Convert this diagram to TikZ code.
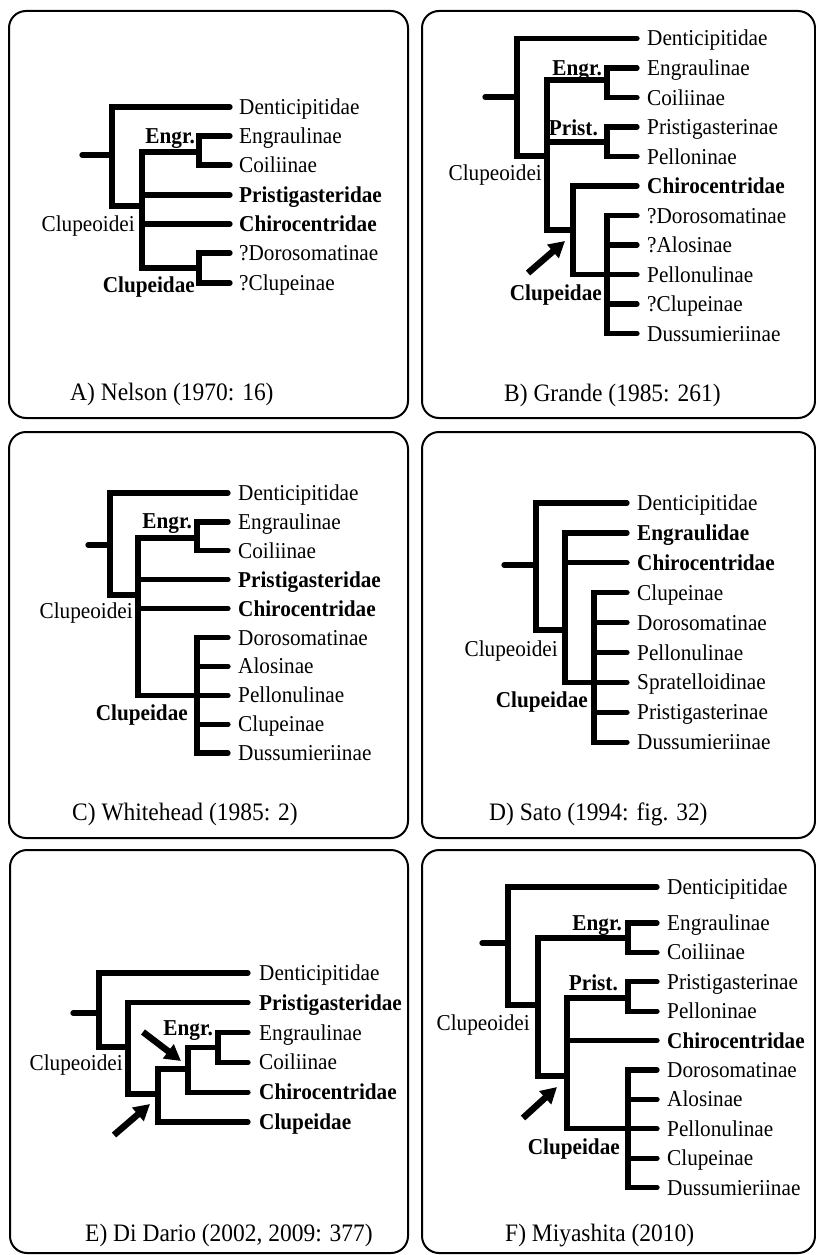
\documentclass[tikz,border=0pt]{standalone}
\usepackage{fontspec}
\setmainfont[FakeStretch=0.935]{Liberation Serif}
\usetikzlibrary{arrows.meta}
\newcommand{\leaffont}{\fontsize{22.7pt}{25pt}\selectfont}
\newcommand{\capfontx}{\fontsize{25.1pt}{28pt}\selectfont}
\tikzset{
  leaf/.style={anchor=base west, inner sep=0pt, font=\leaffont},
  lab/.style={anchor=base east, inner sep=0pt, font=\leaffont},
  blab/.style={anchor=base east, inner sep=0pt, font=\leaffont\bfseries},
  captxt/.style={anchor=base west, inner sep=0pt, font=\capfontx},
  br/.style={line width=5.3pt, line cap=round, line join=miter},
  panel/.style={draw, line width=2pt, rounded corners=17pt},
  bigarrow/.style={line width=6.5pt, -{Triangle[length=16pt,width=17pt]}}
}
\begin{document}
\begin{tikzpicture}[x=1pt,y=-1pt]
\useasboundingbox (0,0) rectangle (816,1255);
% panels
\draw[panel] (9,11) rectangle (408,418);
\draw[panel] (422,11) rectangle (815,418);
\draw[panel] (9,432) rectangle (408,838);
\draw[panel] (422,432) rectangle (815,838);
\draw[panel] (10,850) rectangle (408,1253);
\draw[panel] (422,850) rectangle (815,1253);

%% ---------------- A ----------------
\node[leaf] (a1) at (239,114.5) {Denticipitidae};
\node[leaf] (a2) at (239,143.5) {Engraulinae};
\node[leaf] (a3) at (239,172.5) {Coiliinae};
\node[leaf] (a4) at (239,202.5) {\textbf{Pristigasteridae}};
\node[leaf] (a5) at (239,231.5) {\textbf{Chirocentridae}};
\node[leaf] (a6) at (239,260.5) {?Dorosomatinae};
\node[leaf] (a7) at (239,290.5) {?Clupeinae};
\node[blab] (aEn) at (195,143) {Engr.};
\node[lab] (aCl) at (135,231.5) {Clupeoidei};
\node[blab] (aCu) at (195,292.7) {Clupeidae};
\node[captxt] (aCap) at (70,400) {A) Nelson (1970: 16)};
\draw[br] (82,155) -- (112,155);
\draw[br] (230,107) -| (112,206) -- (142,206);
\draw[br] (199,152) -| (142,268) -- (199,268);
\draw[br] (230,136) -| (199,165) -- (230,165);
\draw[br] (142,195) -- (230,195);
\draw[br] (142,224) -- (230,224);
\draw[br] (230,253) -| (199,283) -- (230,283);

%% ---------------- B ----------------
\node[leaf] (b1) at (647,46) {Denticipitidae};
\node[leaf] (b2) at (647,75.5) {Engraulinae};
\node[leaf] (b3) at (647,105) {Coiliinae};
\node[leaf] (b4) at (647,134.5) {Pristigasterinae};
\node[leaf] (b5) at (647,164) {Pelloninae};
\node[leaf] (b6) at (647,193.5) {\textbf{Chirocentridae}};
\node[leaf] (b7) at (647,223) {?Dorosomatinae};
\node[leaf] (b8) at (647,252.5) {?Alosinae};
\node[leaf] (b9) at (647,282) {Pellonulinae};
\node[leaf] (b10) at (647,311.5) {?Clupeinae};
\node[leaf] (b11) at (647,341) {Dussumieriinae};
\node[blab] (bEn) at (602,75) {Engr.};
\node[blab] (bPr) at (598,135) {Prist.};
\node[lab] (bCl) at (542,180.5) {Clupeoidei};
\node[blab] (bCu) at (602,300) {Clupeidae};
\node[captxt] (bCap) at (504,401) {B) Grande (1985: 261)};
\draw[br] (485,97) -- (517,97);
\draw[br] (637,38.5) -| (517,156) -- (547,156);
\draw[br] (607,80) -| (547,230) -- (573,230);
\draw[br] (637,68) -| (607,97.5) -- (637,97.5);
\draw[br] (547,142) -- (607,142);
\draw[br] (637,127) -| (607,156.5) -- (637,156.5);
\draw[br] (637,186) -| (573,274.5) -- (637,274.5);
\draw[br] (637,215.5) -| (607,333.5) -- (637,333.5);
\draw[br] (607,245) -- (637,245);
\draw[br] (607,304) -- (637,304);
\coordinate (bA0) at (528,273);
\coordinate (bA1) at (565,241);
\draw[bigarrow] (bA0) -- (bA1);

%% ---------------- C ----------------
\node[leaf] (c1) at (238,500.5) {Denticipitidae};
\node[leaf] (c2) at (238,529.4) {Engraulinae};
\node[leaf] (c3) at (238,558.3) {Coiliinae};
\node[leaf] (c4) at (238,587.2) {\textbf{Pristigasteridae}};
\node[leaf] (c5) at (238,616.1) {\textbf{Chirocentridae}};
\node[leaf] (c6) at (238,645) {Dorosomatinae};
\node[leaf] (c7) at (238,673.9) {Alosinae};
\node[leaf] (c8) at (238,702.8) {Pellonulinae};
\node[leaf] (c9) at (238,731.7) {Clupeinae};
\node[leaf] (c10) at (238,760.6) {Dussumieriinae};
\node[blab] (cEn) at (192,528.5) {Engr.};
\node[lab] (cCl) at (133,618.5) {Clupeoidei};
\node[blab] (cCu) at (188,720) {Clupeidae};
\node[captxt] (cCap) at (72,820) {C) Whitehead (1985: 2)};
\draw[br] (88,545) -- (110,545);
\draw[br] (228,493) -| (110,595) -- (138,595);
\draw[br] (197,538) -| (138,695.3) -- (228,695.3);
\draw[br] (228,521.9) -| (197,550.8) -- (228,550.8);
\draw[br] (138,579.7) -- (228,579.7);
\draw[br] (138,608.6) -- (228,608.6);
\draw[br] (228,637.5) -| (197,753.1) -- (228,753.1);
\draw[br] (197,666.4) -- (228,666.4);
\draw[br] (197,724.2) -- (228,724.2);

%% ---------------- D ----------------
\node[leaf] (d1) at (637,510.5) {Denticipitidae};
\node[leaf] (d2) at (637,540.4) {\textbf{Engraulidae}};
\node[leaf] (d3) at (637,570.3) {\textbf{Chirocentridae}};
\node[leaf] (d4) at (637,600.2) {Clupeinae};
\node[leaf] (d5) at (637,630.1) {Dorosomatinae};
\node[leaf] (d6) at (637,660) {Pellonulinae};
\node[leaf] (d7) at (637,689.9) {Spratelloidinae};
\node[leaf] (d8) at (637,719.8) {Pristigasterinae};
\node[leaf] (d9) at (637,749.7) {Dussumieriinae};
\node[lab] (dCl) at (558,656.5) {Clupeoidei};
\node[blab] (dCu) at (588,707.5) {Clupeidae};
\node[captxt] (dCap) at (489,820) {D) Sato (1994: fig. 32)};
\draw[br] (504,565) -- (536,565);
\draw[br] (627,503) -| (536,630) -- (565,630);
\draw[br] (627,532.9) -| (565,682.4) -- (627,682.4);
\draw[br] (565,562.8) -- (627,562.8);
\draw[br] (627,592.7) -| (594,742.2) -- (627,742.2);
\draw[br] (594,622.6) -- (627,622.6);
\draw[br] (594,652.5) -- (627,652.5);
\draw[br] (594,712.3) -- (627,712.3);

%% ---------------- E ----------------
\node[leaf] (e1) at (259,980.5) {Denticipitidae};
\node[leaf] (e2) at (259,1010.3) {\textbf{Pristigasteridae}};
\node[leaf] (e3) at (259,1040.1) {Engraulinae};
\node[leaf] (e4) at (259,1069.9) {Coiliinae};
\node[leaf] (e5) at (259,1099.7) {\textbf{Chirocentridae}};
\node[leaf] (e6) at (259,1129.5) {\textbf{Clupeidae}};
\node[blab] (eEn) at (213,1035.5) {Engr.};
\node[lab] (eCl) at (123,1070) {Clupeoidei};
\node[captxt] (eCap) at (85,1241.5) {E) Di Dario (2002, 2009: 377)};
\draw[br] (73,1013) -- (99,1013);
\draw[br] (248,973) -| (99,1047) -- (128,1047);
\draw[br] (248,1002.8) -| (128,1094) -- (158,1094);
\draw[br] (188,1069) -| (158,1122) -- (248,1122);
\draw[br] (218,1047.5) -| (188,1092.2) -- (248,1092.2);
\draw[br] (248,1032.6) -| (218,1062.4) -- (248,1062.4);
\coordinate (eA0) at (143,1032);
\coordinate (eA1) at (181,1061);
\coordinate (eB0) at (114,1135);
\coordinate (eB1) at (150,1104);
\draw[bigarrow] (eA0) -- (eA1);
\draw[bigarrow] (eB0) -- (eB1);

%% ---------------- F ----------------
\node[leaf] (f1) at (667,894.5) {Denticipitidae};
\node[leaf] (f2) at (667,930.5) {Engraulinae};
\node[leaf] (f3) at (667,959.9) {Coiliinae};
\node[leaf] (f4) at (667,989.3) {Pristigasterinae};
\node[leaf] (f5) at (667,1018.7) {Pelloninae};
\node[leaf] (f6) at (667,1048.1) {\textbf{Chirocentridae}};
\node[leaf] (f7) at (667,1077.5) {Dorosomatinae};
\node[leaf] (f8) at (667,1106.9) {Alosinae};
\node[leaf] (f9) at (667,1136.3) {Pellonulinae};
\node[leaf] (f10) at (667,1165.7) {Clupeinae};
\node[leaf] (f11) at (667,1195.1) {Dussumieriinae};
\node[blab] (fEn) at (622,930) {Engr.};
\node[blab] (fPr) at (618,990) {Prist.};
\node[lab] (fCl) at (530,1030) {Clupeoidei};
\node[blab] (fCu) at (620,1154) {Clupeidae};
\node[captxt] (fCap) at (505,1241.5) {F) Miyashita (2010)};
\draw[br] (482,943) -- (508,943);
\draw[br] (657,887) -| (508,1005) -- (538,1005);
\draw[br] (628,938) -| (538,1076) -- (567,1076);
\draw[br] (657,923) -| (628,952.4) -- (657,952.4);
\draw[br] (628,998) -| (567,1128.8) -- (657,1128.8);
\draw[br] (657,981.8) -| (628,1011.2) -- (657,1011.2);
\draw[br] (567,1040.6) -- (657,1040.6);
\draw[br] (657,1070) -| (628,1187.6) -- (657,1187.6);
\draw[br] (628,1099.4) -- (657,1099.4);
\draw[br] (628,1158.2) -- (657,1158.2);
\coordinate (fA0) at (523,1118);
\coordinate (fA1) at (557,1087);
\draw[bigarrow] (fA0) -- (fA1);
\end{tikzpicture}
\end{document}
